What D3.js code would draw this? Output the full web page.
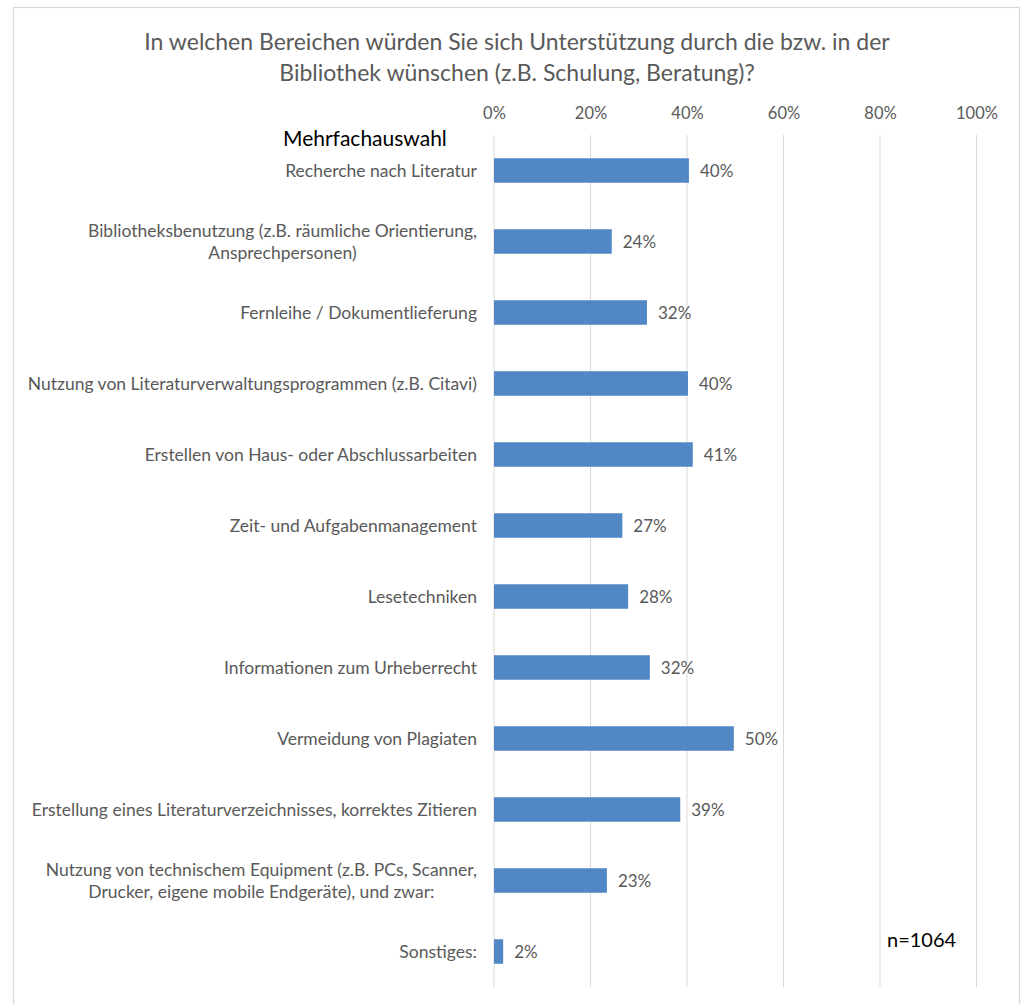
<!DOCTYPE html>
<html><head><meta charset="utf-8">
<script src="https://cdn.jsdelivr.net/npm/d3@7"></script>
<style>body{margin:0;background:#fff}svg{display:block}text{font-family:Lato,"Open Sans",sans-serif}</style>
</head><body>
<svg id="c" width="1025" height="1004"></svg>
<script>
const titleLines = ["In welchen Bereichen würden Sie sich Unterstützung durch die bzw. in der","Bibliothek wünschen (z.B. Schulung, Beratung)?"];
const categories = [
 ["Recherche nach Literatur"],
 ["Bibliotheksbenutzung (z.B. räumliche Orientierung,","Ansprechpersonen)"],
 ["Fernleihe / Dokumentlieferung"],
 ["Nutzung von Literaturverwaltungsprogrammen (z.B. Citavi)"],
 ["Erstellen von Haus- oder Abschlussarbeiten"],
 ["Zeit- und Aufgabenmanagement"],
 ["Lesetechniken"],
 ["Informationen zum Urheberrecht"],
 ["Vermeidung von Plagiaten"],
 ["Erstellung eines Literaturverzeichnisses, korrektes Zitieren"],
 ["Nutzung von technischem Equipment (z.B. PCs, Scanner,","Drucker, eigene mobile Endgeräte), und zwar:"],
 ["Sonstiges:"]
];
const values = [0.404,0.244,0.317,0.402,0.412,0.266,0.278,0.323,0.497,0.386,0.234,0.019];
const ticks = [0,0.2,0.4,0.6,0.8,1.0];
const note = "n=1064";
const subtitle = "Mehrfachauswahl";

const svg = d3.select("#c");
svg.append("rect").attr("x",13.5).attr("y",7.5).attr("width",1006).attr("height",1010)
  .attr("fill","#fff").attr("stroke","#d9d9d9").attr("stroke-width",1.3);

const x = d3.scaleLinear().domain([0,1]).range([494,976.5]);
const y = d3.scaleBand().domain(d3.range(categories.length)).range([135,987]).paddingInner(0.655).paddingOuter(0.3275);

const g = svg.append("g");
g.selectAll("line.grid").data(ticks).join("line").attr("class","grid")
  .attr("x1",d=>x(d)).attr("x2",d=>x(d)).attr("y1",135).attr("y2",987)
  .attr("stroke","#d9d9d9").attr("stroke-width",1);
const ax = d3.axisTop(x).tickValues(ticks).tickFormat(d3.format(".0%")).tickSize(0).tickPadding(0);
const axg = svg.append("g").attr("transform","translate(0,119)").call(ax);
axg.select(".domain").remove();
axg.selectAll("text").attr("fill","#595959").style("font-size","16.5px").style("font-family","Lato,sans-serif");

g.selectAll("rect.bar").data(values).join("rect").attr("class","bar")
  .attr("x",x(0)).attr("y",(d,i)=>y(i)).attr("width",d=>x(d)-x(0)).attr("height",y.bandwidth())
  .attr("fill","#5287c5");
g.selectAll("text.val").data(values).join("text").attr("class","val")
  .attr("x",d=>x(d)+11).attr("y",(d,i)=>y(i)+y.bandwidth()/2).attr("dy","0.36em")
  .attr("fill","#595959").style("font-size","17px").text(d=>d3.format(".0%")(d));
const cl = g.selectAll("text.cat").data(categories).join("text").attr("class","cat")
  .attr("text-anchor","end").attr("fill","#595959").style("font-size","17.5px")
  .attr("transform",(d,i)=>`translate(477,${y(i)+y.bandwidth()/2})`);
cl.each(function(d){
  const t=d3.select(this); const n=d.length; const lh=22;
  d.forEach((s,k)=>{
    t.append("tspan").attr("x",0).attr("y",(k-(n-1)/2)*lh).attr("dy","0.36em").text(s);
  });
});
cl.each(function(d){
  if(d.length<2) return;
  const sp=d3.select(this).selectAll("tspan").nodes();
  const w0=sp[0].getComputedTextLength();
  sp.forEach((s,k)=>{ if(k>0){ const w=s.getComputedTextLength(); d3.select(s).attr("x",-(w0-w)/2);} });
});

svg.append("g").selectAll("text").data(titleLines).join("text")
  .attr("x",517).attr("y",(d,i)=>42+i*31).attr("dy","0.36em").attr("text-anchor","middle")
  .attr("fill","#595959").style("font-size","23px").text(d=>d);
svg.append("text").attr("x",283).attr("y",138).attr("dy","0.36em").attr("fill","#000").style("font-size","21px").text(subtitle);
svg.append("text").attr("x",887).attr("y",940).attr("dy","0.36em").attr("fill","#000").style("font-size","20px").text(note);
</script>
</body></html>
